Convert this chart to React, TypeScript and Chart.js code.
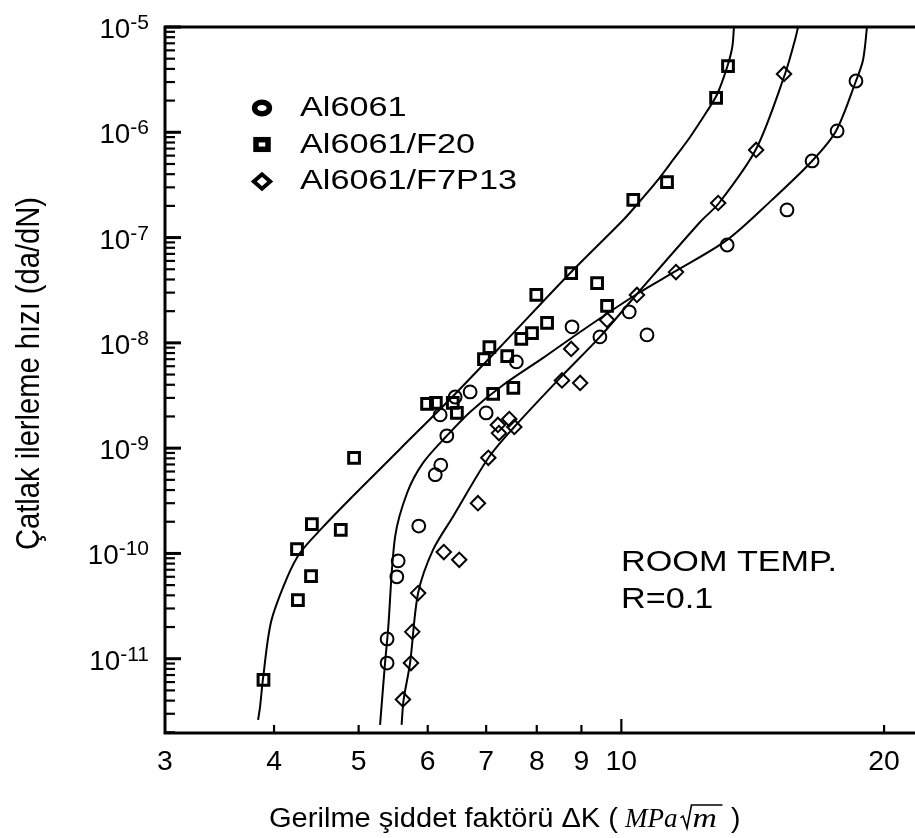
import React, { useEffect, useRef } from "react";
import { Chart, registerables } from "chart.js";

Chart.register(...registerables);

// ---------- axis ranges & ticks ----------
const X_MIN = 3;
const X_MAX = 21.7;
const Y_MIN = 1.97e-12;
const Y_MAX = 1e-5;

const xTickValues = [3, 4, 5, 6, 7, 8, 9, 10, 20];
const xTickLabels = ["3", "4", "5", "6", "7", "8", "9", "10", "20"];
const yTickExponents = [-5, -6, -7, -8, -9, -10, -11];

const seriesNames = ["Al6061", "Al6061/F20", "Al6061/F7P13"];
const xTitle = "Gerilme şiddet faktörü ΔK (";
const yTitle = "Çatlak ilerleme hızı (da/dN)";
const noteLines = ["ROOM TEMP.", "R=0.1"];

// ---------- measured points ----------
// Al6061 (circles)
const al6061K = [5.39, 5.39, 5.53, 5.55, 5.86, 6.12, 6.21, 6.31, 6.2, 6.45, 6.71, 7.0, 7.58, 8.78, 9.45, 10.21, 10.7, 13.22, 15.48, 16.54, 17.67, 18.57];
const al6061Rate = [9.1e-12, 1.54e-11, 6.0e-11, 8.5e-11, 1.82e-10, 5.6e-10, 6.9e-10, 1.31e-9, 2.07e-9, 3.06e-9, 3.42e-9, 2.16e-9, 6.6e-9, 1.42e-8, 1.14e-8, 1.97e-8, 1.19e-8, 8.5e-8, 1.83e-7, 5.34e-7, 1.03e-6, 3.07e-6];

// Al6061/F20 (squares)
const f20K = [3.89, 4.26, 4.25, 4.41, 4.42, 4.77, 4.94, 5.99, 6.13, 6.41, 6.48, 6.96, 7.06, 7.13, 7.4, 7.52, 7.68, 7.9, 7.99, 8.22, 8.76, 9.38, 9.63, 10.32, 11.28, 12.84, 13.25];
const f20Rate = [6.3e-12, 3.6e-11, 1.1e-10, 6.1e-11, 1.9e-10, 1.67e-10, 8.1e-10, 2.63e-9, 2.69e-9, 2.69e-9, 2.16e-9, 7.0e-9, 9.1e-9, 3.27e-9, 7.5e-9, 3.73e-9, 1.09e-8, 1.24e-8, 2.85e-8, 1.55e-8, 4.6e-8, 3.7e-8, 2.24e-8, 2.28e-7, 3.37e-7, 2.12e-6, 4.26e-6];

// Al6061/F7P13 (diamonds)
const f7p13K = [5.62, 5.74, 5.76, 5.85, 6.26, 6.52, 6.85, 7.04, 7.22, 7.24, 7.44, 7.54, 8.55, 8.76, 8.97, 9.63, 10.42, 11.55, 12.91, 14.27, 15.36];
const f7p13Rate = [4.1e-12, 9.1e-12, 1.8e-11, 4.2e-11, 1.03e-10, 8.7e-11, 3.0e-10, 8.1e-10, 1.66e-9, 1.39e-9, 1.89e-9, 1.59e-9, 4.4e-9, 8.75e-9, 4.16e-9, 1.65e-8, 2.85e-8, 4.7e-8, 2.13e-7, 6.8e-7, 3.58e-6];

// ---------- fitted curves ----------
const al6061CurveK = [5.291, 5.361, 5.404, 5.505, 5.682, 5.926, 6.31, 6.71, 7.32, 8.135, 9.038, 10.42, 11.55, 13.22, 14.88, 16.54, 17.62, 18.57, 18.92, 19.12];
const al6061CurveRate = [2.35e-12, 9.12e-12, 1.88e-11, 1.435e-10, 3.75e-10, 7.24e-10, 1.31e-9, 2.21e-9, 3.98e-9, 7.2e-9, 1.326e-8, 2.91e-8, 4.82e-8, 9.5e-8, 2.28e-7, 5.34e-7, 1.03e-6, 3.07e-6, 4.86e-6, 1e-5];

const f20CurveK = [3.835, 3.855, 3.885, 3.969, 4.139, 4.283, 4.552, 4.85, 5.249, 5.578, 6.45, 7.263, 8.76, 10.05, 10.51, 10.99, 11.46, 11.99, 12.54, 12.88, 13.22, 13.4, 13.46];
const f20CurveRate = [2.62e-12, 3.49e-12, 6.43e-12, 2.24e-11, 5.85e-11, 1.01e-10, 1.785e-10, 3.08e-10, 5.94e-10, 9.83e-10, 3.27e-9, 9.14e-9, 4.71e-8, 1.47e-7, 2.23e-7, 3.45e-7, 5.46e-7, 9.03e-7, 1.59e-6, 2.31e-6, 4.17e-6, 6.46e-6, 1e-5];

const f7p13CurveK = [5.6, 5.63, 5.727, 5.85, 6.084, 6.41, 7.04, 7.52, 8.506, 9.45, 10.42, 12.31, 12.94, 14.27, 15.4, 15.81, 15.94];
const f7p13CurveRate = [2.35e-12, 4.06e-12, 9.12e-12, 4.21e-11, 1.08e-10, 2.22e-10, 8.07e-10, 1.555e-9, 4.64e-9, 1.14e-8, 2.91e-8, 1.406e-7, 2.13e-7, 6.94e-7, 3.58e-6, 7.52e-6, 1e-5];

const toXY = (xs: number[], ys: number[]) => xs.map((x, i) => ({ x, y: ys[i] }));

const SANS = '"Liberation Sans", Arial, Helvetica, sans-serif';
const SERIF = '"Liberation Serif", "Times New Roman", serif';

function textW(ctx: CanvasRenderingContext2D, text: string, font: string) {
  ctx.font = font;
  return ctx.measureText(text).width;
}

function drawText(
  ctx: CanvasRenderingContext2D,
  text: string,
  x: number,
  y: number,
  font: string,
  align: "left" | "center" | "right",
  scaleX = 1
) {
  ctx.save();
  ctx.font = font;
  const w = ctx.measureText(text).width * scaleX;
  let left = x;
  if (align === "center") left = x - w / 2;
  else if (align === "right") left = x - w;
  ctx.translate(left, y);
  ctx.scale(scaleX, 1);
  ctx.textAlign = "left";
  ctx.textBaseline = "alphabetic";
  ctx.fillStyle = "#000";
  ctx.fillText(text, 0, 0);
  ctx.restore();
  return w;
}

const decorPlugin = {
  id: "decor",
  afterDraw(chart: any) {
    const { ctx, chartArea: ca } = chart;
    const xs = chart.scales.x;
    const ys = chart.scales.y;
    ctx.save();
    ctx.strokeStyle = "#000";
    ctx.fillStyle = "#000";
    ctx.lineCap = "butt";

    // frame: top, left, bottom
    ctx.lineWidth = 3;
    ctx.beginPath();
    ctx.moveTo(ca.left - 1.5, ca.top);
    ctx.lineTo(ca.right, ca.top);
    ctx.moveTo(ca.left, ca.top - 1.5);
    ctx.lineTo(ca.left, ca.bottom + 1.5);
    ctx.moveTo(ca.left - 1.5, ca.bottom);
    ctx.lineTo(ca.right, ca.bottom);
    ctx.stroke();

    // y ticks (inside)
    for (let e = -12; e <= -5; e++) {
      for (let m = 1; m <= 9; m++) {
        const v = m * Math.pow(10, e);
        if (v < Y_MIN || v > Y_MAX * 1.0001) continue;
        const py = ys.getPixelForValue(v);
        const len = m === 1 ? 16 : 10;
        ctx.lineWidth = m === 1 ? 3 : 2.2;
        ctx.beginPath();
        ctx.moveTo(ca.left, py);
        ctx.lineTo(ca.left + len, py);
        ctx.stroke();
      }
    }

    // x ticks (inside)
    xTickValues.forEach((v) => {
      if (v <= X_MIN) return;
      const px = xs.getPixelForValue(v);
      const len = v === 10 ? 14 : 8;
      ctx.lineWidth = 2.2;
      ctx.beginPath();
      ctx.moveTo(px, ca.bottom);
      ctx.lineTo(px, ca.bottom - len);
      ctx.stroke();
    });

    // x tick labels
    xTickValues.forEach((v, i) => {
      const px = xs.getPixelForValue(v);
      drawText(ctx, xTickLabels[i], px, ca.bottom + 37, `27px ${SANS}`, "center", 1.05);
    });

    // y tick labels 10^n
    yTickExponents.forEach((e) => {
      const py = ys.getPixelForValue(Math.pow(10, e));
      const sup = String(e);
      const supW = drawText(ctx, sup, 149, py + 2, `21px ${SANS}`, "right");
      drawText(ctx, "10", 149 - supW, py + 11, `27px ${SANS}`, "right", 1.03);
    });

    // legend
    const legX = 262;
    const legTextX = 300;
    const legBase = [115.5, 152.5, 189];
    const legMid = [108, 144.5, 181.5];
    const legFont = `27px ${SANS}`;
    const legScale = 217 / textW(ctx, seriesNames[2], legFont);
    ctx.lineWidth = 5.5;
    ctx.beginPath();
    ctx.ellipse(legX, legMid[0], 7.4, 5.8, 0, 0, Math.PI * 2);
    ctx.stroke();
    ctx.lineWidth = 5.5;
    ctx.strokeRect(legX - 6, legMid[1] - 4.8, 12, 9.6);
    ctx.lineWidth = 4;
    ctx.lineJoin = "miter";
    ctx.beginPath();
    ctx.moveTo(legX - 8.2, legMid[2]);
    ctx.lineTo(legX, legMid[2] - 7.2);
    ctx.lineTo(legX + 8.2, legMid[2]);
    ctx.lineTo(legX, legMid[2] + 7.2);
    ctx.closePath();
    ctx.stroke();
    seriesNames.forEach((n, i) => {
      drawText(ctx, n, legTextX, legBase[i], legFont, "left", legScale);
    });

    // note
    const noteFont = `29px ${SANS}`;
    const noteScale = 216 / textW(ctx, noteLines[0], noteFont);
    drawText(ctx, noteLines[0], 621, 571, noteFont, "left", noteScale);
    drawText(ctx, noteLines[1], 621, 608, noteFont, "left", noteScale);

    // y title (rotated)
    ctx.save();
    const yFont = `30px ${SANS}`;
    const yScale = 353 / textW(ctx, yTitle, yFont);
    ctx.translate(39, 373.5);
    ctx.rotate(-Math.PI / 2);
    ctx.scale(yScale, 1.12);
    ctx.font = yFont;
    ctx.textAlign = "center";
    ctx.textBaseline = "alphabetic";
    ctx.fillText(yTitle, 0, 0);
    ctx.restore();

    // x title
    const tBase = 827;
    const tFont = `27px ${SANS}`;
    const tScale = 349 / textW(ctx, xTitle, tFont);
    drawText(ctx, xTitle, 269, tBase, tFont, "left", tScale);
    const itFont = `italic 27px ${SERIF}`;
    const mpaW = drawText(ctx, "MPa", 625, tBase, itFont, "left", 1.0);
    const rootX = 625 + mpaW + 3;
    // radical sign
    ctx.lineWidth = 1.6;
    ctx.lineJoin = "miter";
    ctx.beginPath();
    ctx.moveTo(rootX, tBase - 9);
    ctx.lineTo(rootX + 2.5, tBase - 11);
    ctx.lineTo(rootX + 6.5, tBase + 1);
    ctx.lineTo(rootX + 11, tBase - 22);
    ctx.lineTo(rootX + 42, tBase - 22);
    ctx.stroke();
    drawText(ctx, "m", rootX + 12, tBase, itFont, "left", 1.25);
    drawText(ctx, ")", 731, tBase, tFont, "left", 1.05);

    ctx.restore();
  },
};

export default function App() {
  const ref = useRef<HTMLCanvasElement | null>(null);

  useEffect(() => {
    document.body.style.margin = "0";
    document.body.style.overflow = "hidden";
    const canvas = ref.current;
    if (!canvas) return;

    const curve = (xs: number[], ys: number[]) => ({
      data: toXY(xs, ys),
      showLine: true,
      borderColor: "#000",
      borderWidth: 2,
      pointRadius: 0,
      tension: 0.3,
      fill: false,
      order: 2,
    });

    const chart = new Chart(canvas, {
      type: "scatter",
      data: {
        datasets: [
          curve(al6061CurveK, al6061CurveRate),
          curve(f20CurveK, f20CurveRate),
          curve(f7p13CurveK, f7p13CurveRate),
          {
            label: seriesNames[0],
            data: toXY(al6061K, al6061Rate),
            pointStyle: "circle",
            pointRadius: 6.4,
            borderWidth: 2,
            borderColor: "#000",
            backgroundColor: "rgba(0,0,0,0)",
            order: 1,
          },
          {
            label: seriesNames[1],
            data: toXY(f20K, f20Rate),
            pointStyle: "rect",
            pointRadius: 7.6,
            borderWidth: 3,
            borderColor: "#000",
            backgroundColor: "rgba(0,0,0,0)",
            order: 1,
          },
          {
            label: seriesNames[2],
            data: toXY(f7p13K, f7p13Rate),
            pointStyle: "rectRot",
            pointRadius: 7.2,
            borderWidth: 2,
            borderColor: "#000",
            backgroundColor: "rgba(0,0,0,0)",
            order: 1,
          },
        ] as any,
      },
      options: {
        responsive: false,
        animation: false,
        events: [],
        layout: { autoPadding: false, padding: { left: 165, top: 27, right: 0, bottom: 105 } },
        plugins: {
          legend: { display: false },
          tooltip: { enabled: false },
          title: { display: false },
        },
        scales: {
          x: { type: "logarithmic", min: X_MIN, max: X_MAX, display: false },
          y: { type: "logarithmic", min: Y_MIN, max: Y_MAX, display: false },
        },
      } as any,
      plugins: [decorPlugin],
    });

    return () => {
      chart.destroy();
    };
  }, []);

  return (
    <div style={{ width: 915, height: 838, background: "#fff" }}>
      <canvas ref={ref} width={915} height={838} style={{ display: "block", width: 915, height: 838 }} />
    </div>
  );
}
